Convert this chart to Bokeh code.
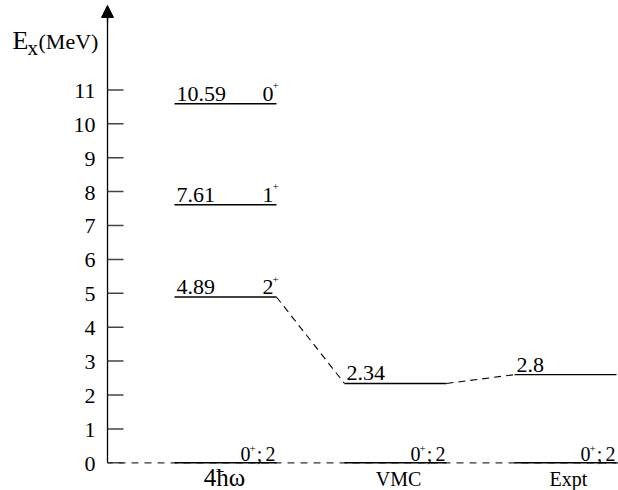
from bokeh.plotting import figure
from bokeh.models import Range1d, Arrow, NormalHead
from bokeh.core.properties import value
from bokeh.embed import file_html
from bokeh.resources import INLINE

SERIF = "Liberation Serif"

# ---- data ----
models = ["4ħω", "VMC", "Expt"]
hw_energies = [4.89, 7.61, 10.59]
hw_labels = ["4.89", "7.61", "10.59"]
hw_spins = ["2", "1", "0"]
vmc_energies = [2.34]
vmc_labels = ["2.34"]
expt_energies = [2.6]          # height at which the level is drawn
expt_labels = ["2.8"]          # printed value
ground_energy = [0.0, 0.0, 0.0]
ground_spin = "0"
ground_sep = ";"
ground_t = "2"
yticks = list(range(0, 12))
ytick_labels = [str(t) for t in yticks]
y_title = ("E", "x", "(MeV)")

HALF = 0.3       # half width of a level line (column units)
AXIS_X = -0.694  # where the energy axis stands (column units)
Y_TOP = 13.49    # arrow tip

p = figure(width=618, height=490, output_backend="svg", toolbar_location=None,
           x_range=Range1d(-1.3235, 2.3118), y_range=Range1d(-0.817, 13.637),
           x_axis_location=None, y_axis_location=None)
p.min_border = 0
p.outline_line_color = None
p.grid.grid_line_color = None
p.background_fill_color = "white"
p.border_fill_color = "white"

# ---- energy axis ----
p.segment(x0=[AXIS_X], y0=[0], x1=[AXIS_X], y1=[Y_TOP - 0.2], line_color="black", line_width=1.3)
p.add_layout(Arrow(end=NormalHead(size=12, fill_color="black", line_color="black", line_width=1),
                   line_color="black", line_width=1.3,
                   x_start=AXIS_X, y_start=Y_TOP - 0.5, x_end=AXIS_X, y_end=Y_TOP))
p.ray(x=[AXIS_X] * len(yticks), y=yticks, length=16, length_units="screen", angle=0,
      line_color="#444444", line_width=1.5)
p.text(x=[AXIS_X] * len(yticks), y=yticks, text=ytick_labels, text_font=value(SERIF),
       text_font_size="22px", text_align="right", text_baseline="alphabetic",
       x_offset=-12, y_offset=1, text_color="black")

# axis title E_x(MeV)
p.text(x=[AXIS_X], y=[12.47], text=[y_title[0]], text_font=value(SERIF), text_font_size="26px",
       text_align="left", text_baseline="alphabetic", x_offset=-95, text_color="black")
p.text(x=[AXIS_X], y=[12.24], text=[y_title[1]], text_font=value(SERIF), text_font_size="21px",
       text_align="left", text_baseline="alphabetic", x_offset=-80, text_color="black")
p.text(x=[AXIS_X], y=[12.43], text=[y_title[2]], text_font=value(SERIF), text_font_size="22px",
       text_align="left", text_baseline="alphabetic", x_offset=-69, text_color="black")

# dashed baseline at E=0
p.segment(x0=[AXIS_X], y0=[0], x1=[p.x_range.end], y1=[0], line_color="#333333",
          line_width=1.2, line_dash="7 6", line_dash_offset=-11)

# ---- level lines ----
lx0, lx1, ly, lab_x, lab_y, lab_t = [], [], [], [], [], []
col_levels = [(0, hw_energies, hw_labels), (1, vmc_energies, vmc_labels), (2, expt_energies, expt_labels)]
for c, es, ls in col_levels:
    for e, l in zip(es, ls):
        lx0.append(c - HALF); lx1.append(c + HALF); ly.append(e)
        lab_x.append(c - HALF); lab_y.append(e); lab_t.append(l)
for c, e in enumerate(ground_energy):
    lx0.append(c - HALF); lx1.append(c + HALF); ly.append(e)

p.segment(x0=lx0, x1=lx1, y0=ly, y1=ly, line_color="black", line_width=1.4)

# connectors between columns
cx0 = [0 + HALF, 1 + HALF]
cy0 = [hw_energies[0], vmc_energies[0]]
cx1 = [1 - HALF, 2 - HALF]
cy1 = [vmc_energies[0], expt_energies[0]]
p.segment(x0=cx0, y0=cy0, x1=cx1, y1=cy1, line_color="black", line_width=1.1, line_dash="7 5")

# value labels
p.text(x=lab_x, y=lab_y, text=lab_t, text_font=value(SERIF), text_font_size="22px",
       text_baseline="alphabetic", text_align="left", x_offset=2, y_offset=-10, text_color="black")

# spin labels for 4hw
ex = [0 + HALF] * len(hw_energies)
p.text(x=ex, y=hw_energies, text=hw_spins, text_font=value(SERIF), text_font_size="22px",
       text_baseline="alphabetic", text_align="right", x_offset=-3, y_offset=-10, text_color="black")
p.text(x=ex, y=hw_energies, text=["+"] * len(hw_energies), text_font=value(SERIF), text_font_size="11px",
       text_baseline="alphabetic", text_align="center", x_offset=-1, y_offset=-18, text_color="black")

# ground labels 0+;2
gx = [c + HALF for c in range(len(ground_energy))]
n = len(ground_energy)
p.text(x=gx, y=ground_energy, text=[ground_t] * n, text_font=value(SERIF), text_font_size="20px",
       text_baseline="alphabetic", text_align="right", x_offset=-1, y_offset=-9, text_color="black")
p.text(x=gx, y=ground_energy, text=[ground_sep] * n, text_font=value(SERIF), text_font_size="20px",
       text_baseline="alphabetic", text_align="center", x_offset=-17, y_offset=-9, text_color="black")
p.text(x=gx, y=ground_energy, text=["+"] * n, text_font=value(SERIF), text_font_size="11px",
       text_baseline="alphabetic", text_align="center", x_offset=-24, y_offset=-14, text_color="black")
p.text(x=gx, y=ground_energy, text=[ground_spin] * n, text_font=value(SERIF), text_font_size="20px",
       text_baseline="alphabetic", text_align="right", x_offset=-26, y_offset=-9, text_color="black")

# column names
p.text(x=[0], y=[0], text=models[:1], text_font=value(SERIF), text_font_size="25px",
       text_baseline="alphabetic", text_align="center", x_offset=-1, y_offset=15, text_color="black")
p.text(x=[1, 2], y=[0, 0], text=models[1:], text_font=value(SERIF), text_font_size="20px",
       text_baseline="alphabetic", text_align="center", x_offset=3, y_offset=16, text_color="black")

open("out.html", "w").write(file_html(p, INLINE))
